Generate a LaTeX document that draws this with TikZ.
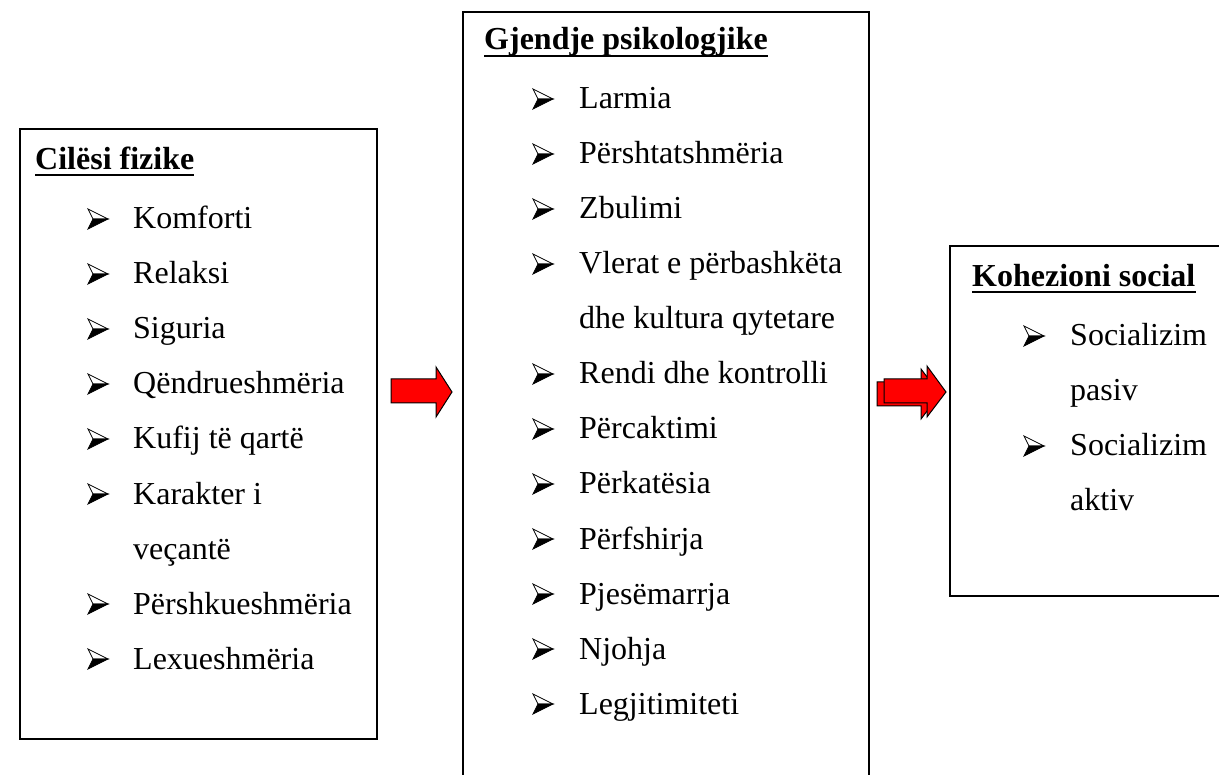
\documentclass[tikz,border=0pt]{standalone}
\usepackage{fontspec}
\setmainfont{Liberation Serif}
\begin{document}
\begin{tikzpicture}[x=1pt,y=-1pt,
  box/.style={draw=black,line width=1.6pt},
  txt/.style={anchor=base west,inner sep=0pt,font=\fontsize{32}{38}\selectfont},
  hd/.style={txt,font=\fontsize{32}{38}\selectfont\bfseries},
  uline/.style={line width=2.6pt},
  redarrow/.style={fill=red,draw=black,line width=1pt,line join=miter},
  bul/.pic={
    \filldraw[line width=0.7pt,fill=white,line join=miter] (0,-20) -- (20,-10) -- (5,-10) -- cycle;
    \filldraw[line width=0.7pt,fill=black,line join=miter] (0,0) -- (20,-10) -- (5,-10) -- cycle;
  }]
\useasboundingbox (0,0) rectangle (1219,775);
\fill[white] (0,0) rectangle (1219,775);
% boxes
\draw[box] (20,129) rectangle (377,739);
\draw[box] (463,790) -- (463,12) -- (869,12) -- (869,790);
\draw[box] (1230,246) -- (950,246) -- (950,596) -- (1230,596);
% left box
\node[hd] (h1) at (35,170) {Cilësi fizike};
\draw[uline] ([yshift=-5pt]h1.base west) -- ([yshift=-5pt]h1.base east);
\foreach \t/\b [count=\i from 0] in {Komforti/1,Relaksi/1,Siguria/1,Qëndrueshmëria/1,Kufij të qartë/1,Karakter i/1,veçantë/0,Përshkueshmëria/1,Lexueshmëria/1}{
  \node[txt] (l\i) at (133,229+55*\i) {\t};
  \ifnum\b=1 \pic at (88,229+55*\i) {bul}; \fi
}
% middle box
\node[hd] (h2) at (484,50) {Gjendje psikologjike};
\draw[uline] ([yshift=-6pt]h2.base west) -- ([yshift=-6pt]h2.base east);
\foreach \t/\b [count=\i from 0] in {Larmia/1,Përshtatshmëria/1,Zbulimi/1,Vlerat e përbashkëta/1,dhe kultura qytetare/0,Rendi dhe kontrolli/1,Përcaktimi/1,Përkatësia/1,Përfshirja/1,Pjesëmarrja/1,Njohja/1,Legjitimiteti/1}{
  \node[txt] (m\i) at (579,109+55*\i) {\t};
  \ifnum\b=1 \pic at (533,109+55*\i) {bul}; \fi
}
% right box
\node[hd] (h3) at (972,287) {Kohezioni social};
\draw[uline] ([yshift=-5pt]h3.base west) -- ([yshift=-5pt]h3.base east);
\foreach \t/\b [count=\i from 0] in {Socializim/1,pasiv/0,Socializim/1,aktiv/0}{
  \node[txt] (r\i) at (1070,346+55*\i) {\t};
  \ifnum\b=1 \pic at (1024,346+55*\i) {bul}; \fi
}
% arrows
\draw[redarrow] (391,379) -- (436,379) -- (436,367) -- (452,392) -- (436,417) -- (436,403) -- (391,403) -- cycle;
\draw[redarrow] (877,382) -- (921,382) -- (921,369) -- (940,394) -- (921,419) -- (921,406) -- (877,406) -- cycle;
\draw[redarrow] (884,379) -- (927,379) -- (927,366) -- (946,392) -- (927,417) -- (927,403) -- (884,403) -- cycle;
\end{tikzpicture}
\end{document}
